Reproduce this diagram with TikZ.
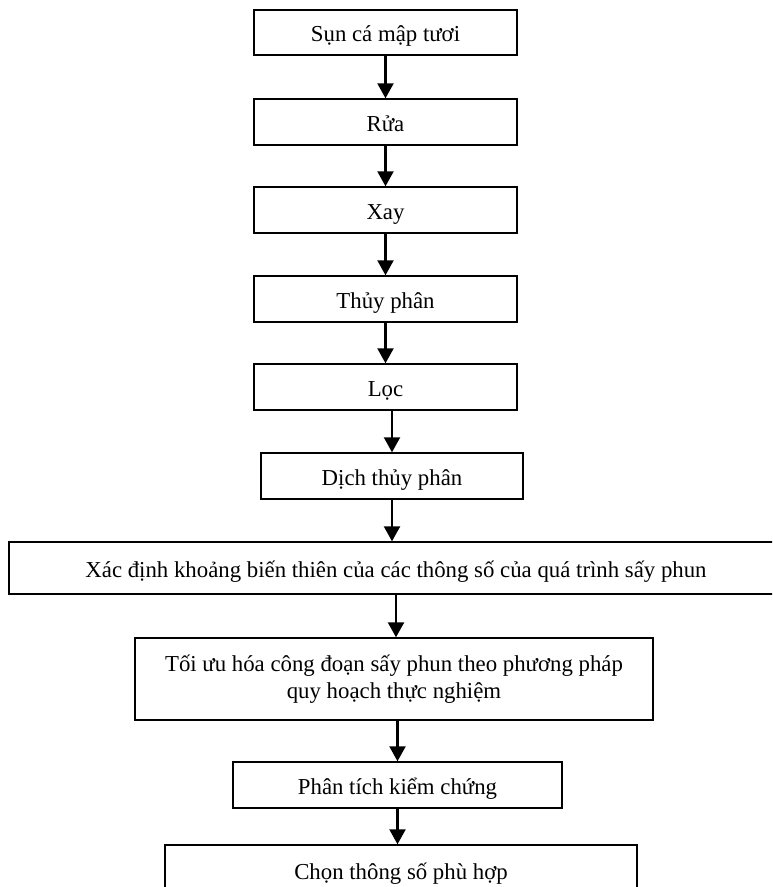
\documentclass[tikz,border=0pt]{standalone}
\usepackage{fontspec}
\setmainfont{Liberation Serif}
\usetikzlibrary{arrows.meta}
\tikzset{
    stepbox/.style={draw, line width=1.4pt, inner sep=0pt, align=center,
        font=\fontsize{22.8}{27}\selectfont},
    oneline/.style={text height=18pt, text depth=0pt},
    flow/.style={line width=2.2pt, -{Triangle[width=16pt,length=15pt]}}
}
\begin{document}
\begin{tikzpicture}[x=1pt, y=-1pt]
        \useasboundingbox (0,0) rectangle (772,887);
        \clip (0,0) rectangle (772,887);
        \node[stepbox, oneline, minimum width=263, minimum height=45] (tuoi) at (385.5,32.5) {Sụn cá mập tươi};
        \node[stepbox, oneline, minimum width=263, minimum height=46] (rua) at (385.5,122) {Rửa};
        \node[stepbox, oneline, minimum width=263, minimum height=46] (xay) at (385.5,210) {Xay};
        \node[stepbox, oneline, minimum width=263, minimum height=46] (thuyphan) at (385.5,299) {Thủy phân};
        \node[stepbox, oneline, minimum width=263, minimum height=46] (loc) at (385.5,387) {Lọc};
        \node[stepbox, oneline, minimum width=262, minimum height=46] (dich) at (392,476) {Dịch thủy phân};
        \node[stepbox, oneline, minimum width=774, minimum height=52] (khoang) at (396,568) {Xác định khoảng biến thiên của các thông số của quá trình sấy phun};
        \node[stepbox, minimum width=518, minimum height=82] (toiuu) at (394,679) {Tối ưu hóa công đoạn sấy phun theo phương pháp\\quy hoạch thực nghiệm};
        \node[stepbox, oneline, minimum width=329, minimum height=46] (kiemchung) at (397.5,785) {Phân tích kiểm chứng};
        \node[stepbox, oneline, minimum width=472, minimum height=50] (chon) at (401,870) {Chọn thông số phù hợp};
        \draw[flow] (tuoi) -- (rua);
        \draw[flow] (rua) -- (xay);
        \draw[flow] (xay) -- (thuyphan);
        \draw[flow] (thuyphan) -- (loc);
        \draw[flow] (dich.north |- loc.south) -- (dich.north);
        \draw[flow] (dich.south) -- (dich.south |- khoang.north);
        \draw[flow] (khoang.south) -- (khoang.south |- toiuu.north);
        \draw[flow] (kiemchung.north |- toiuu.south) -- (kiemchung.north);
        \draw[flow] (kiemchung.south) -- (kiemchung.south |- chon.north);
    \end{tikzpicture}
\end{document}
